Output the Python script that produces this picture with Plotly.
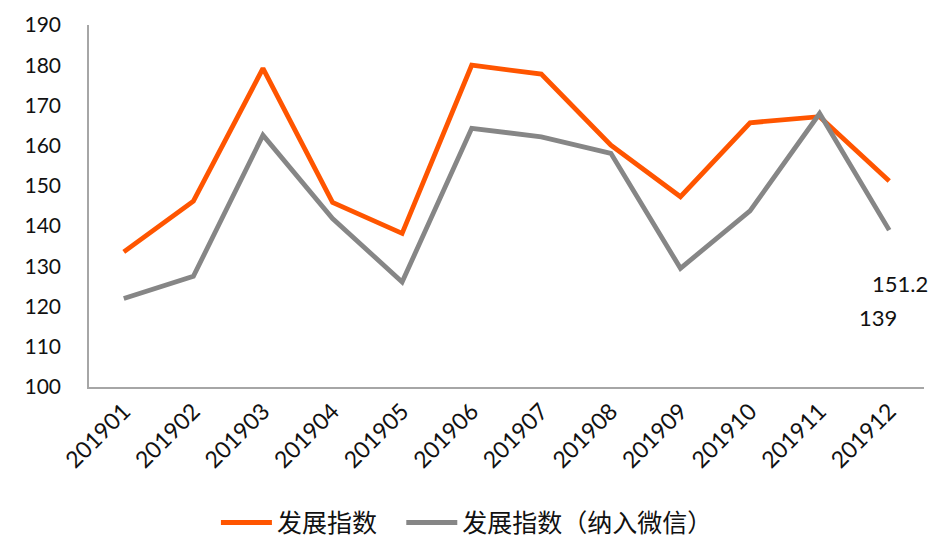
import plotly.graph_objects as go

months = ['201901', '201902', '201903', '201904', '201905', '201906',
          '201907', '201908', '201909', '201910', '201911', '201912']
dev_index = [133.6, 146.2, 179.2, 145.9, 138.2, 180.0,
             177.8, 160.1, 147.3, 165.7, 167.2, 151.2]
dev_index_wechat = [122.0, 127.5, 162.6, 141.9, 126.1, 164.3,
                    162.2, 158.1, 129.5, 143.8, 168.0, 139.0]
y_ticks = [100, 110, 120, 130, 140, 150, 160, 170, 180, 190]

ORANGE = '#FF5500'
GREY = '#868686'
NUM_FONT = 'Lato, Open Sans, sans-serif'
CJK_FONT = 'Noto Sans CJK SC, sans-serif'

fig = go.Figure()
fig.add_trace(go.Scatter(x=months, y=dev_index, mode='lines', name='发展指数',
                         line=dict(color=ORANGE, width=4.8), legend='legend'))
fig.add_trace(go.Scatter(x=months, y=dev_index_wechat, mode='lines', name='发展指数（纳入微信）',
                         line=dict(color=GREY, width=4.8), legend='legend2'))

# end-of-line data labels, pushed down below the lines like the original
last = len(months) - 1
fig.add_annotation(x=last, y=dev_index[last], xref='x', yref='y',
                   text=f'{dev_index[last]:g}', showarrow=False,
                   xshift=11, yshift=-102,
                   font=dict(family=NUM_FONT, size=22, color='#111111'))
fig.add_annotation(x=last, y=dev_index_wechat[last], xref='x', yref='y',
                   text=f'{dev_index_wechat[last]:g}', showarrow=False,
                   xshift=-11, yshift=-87,
                   font=dict(family=NUM_FONT, size=22, color='#111111'))

legend_style = dict(orientation='h', xanchor='left', y=-0.375, yanchor='middle',
                    font=dict(family=CJK_FONT, size=25, color='#111111'),
                    itemwidth=51, bgcolor='rgba(0,0,0,0)')

# the page body adds ~8px, so margins are trimmed by that much
fig.update_layout(
    width=949, height=554,
    margin=dict(l=81, r=33, t=17, b=175),
    plot_bgcolor='white', paper_bgcolor='white',
    showlegend=True,
    legend=dict(x=0.152, **legend_style),
    legend2=dict(x=0.374, **legend_style),
    xaxis=dict(type='category', range=[-0.5, 11.5], showgrid=False, automargin=False,
               showline=True, linecolor='#A6A6A6', linewidth=1.5,
               ticks='', tickangle=-45,
               tickfont=dict(family=NUM_FONT, size=23, color='#111111')),
    yaxis=dict(range=[100, 190], tickvals=y_ticks, showgrid=False, zeroline=False,
               automargin=False, showline=True, linecolor='#A6A6A6', linewidth=1.5,
               ticks='', ticklabelstandoff=22,
               tickfont=dict(family=NUM_FONT, size=21, color='#111111')),
)

fig.write_html('out.html')
